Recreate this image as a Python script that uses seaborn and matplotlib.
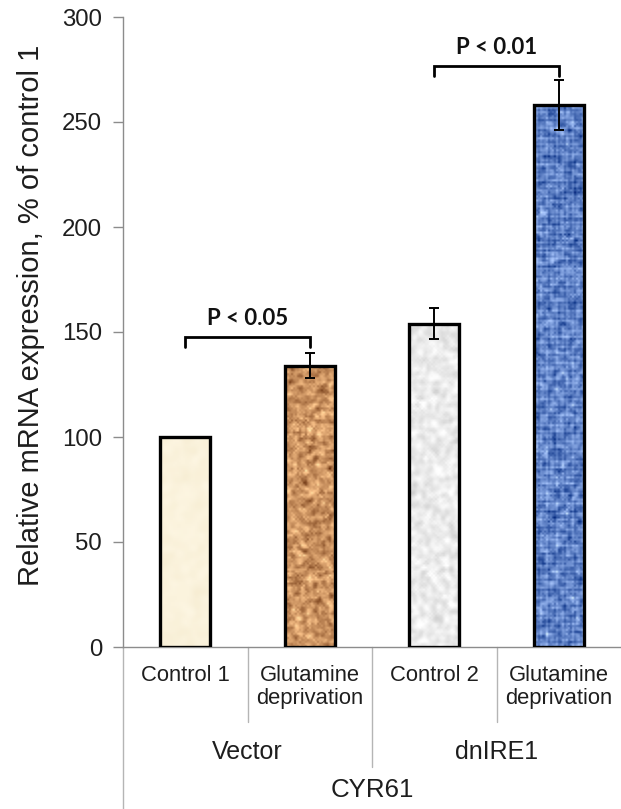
import numpy as np
import pandas as pd
import matplotlib
matplotlib.use("Agg")
import matplotlib.pyplot as plt
import seaborn as sns
from matplotlib.lines import Line2D
from matplotlib.transforms import blended_transform_factory

# ---- data ----
conditions = ["Control 1", "Glutamine\ndeprivation", "Control 2", "Glutamine\ndeprivation"]
groups = ["Vector", "Vector", "dnIRE1", "dnIRE1"]
gene = "CYR61"
values = [100, 134, 154, 258]
errors = [0, 6, 7.5, 12]
comparisons = [(0, 1, "P < 0.05"), (2, 3, "P < 0.01")]
y_ticks = [0, 50, 100, 150, 200, 250, 300]

keys = [f"{g}|{c}" for g, c in zip(groups, conditions)]
df = pd.DataFrame({"key": keys, "value": values, "err": errors})

sns.set_theme(style="white")
plt.rcParams["font.family"] = ["Liberation Sans", "DejaVu Sans"]

fig = plt.figure(figsize=(6.21, 8.09), dpi=100)
ax = fig.add_axes([123 / 621, 1 - 647 / 809, 1 - 123 / 621, 630 / 809])

sns.barplot(data=df, x="key", y="value", order=keys, width=0.4,
            color="white", edgecolor="black", linewidth=2.4,
            errorbar=None, ax=ax, zorder=3)


def smooth(a, k=1):
    out = a.copy()
    for _ in range(k):
        out = (out + np.roll(out, 1, 0) + np.roll(out, -1, 0)
               + np.roll(out, 1, 1) + np.roll(out, -1, 1)) / 5.0
    return out


def texture(kind, h, w, seed):
    rng = np.random.default_rng(seed)
    n = rng.standard_normal((h, w))
    if kind == "cream":
        base = np.array([251, 243, 221.0])
        n = smooth(n, 6)
        img = base + n[..., None] * np.array([6, 8, 14.0])
    elif kind == "cork":
        base = np.array([204, 148, 98.0])
        n = smooth(n, 1)
        n = n / n.std()
        img = base + n[..., None] * np.array([26, 26, 22.0])
    elif kind == "paper":
        base = np.array([236, 236, 236.0])
        n = smooth(n, 2)
        n = n / n.std()
        img = base + n[..., None] * np.array([9, 9, 9.0])
    else:  # woven blue
        base = np.array([96, 130, 198.0])
        yy, xx = np.mgrid[0:h, 0:w]
        weave = (np.sin(xx * 2 * np.pi / 2.6) * 0.6
                 + np.sin(yy * 2 * np.pi / 2.6) * 0.6)
        n = smooth(n, 1)
        n = n / n.std() * 0.8 + weave
        img = base + n[..., None] * np.array([32, 30, 24.0])
    return np.clip(img, 0, 255).astype(np.uint8)


kinds = ["cream", "cork", "paper", "woven"]
px_per_unit = 630 / 300
for i, (patch, kind) in enumerate(zip(ax.patches, kinds)):
    x0, w = patch.get_x(), patch.get_width()
    h = patch.get_height()
    img = texture(kind, max(int(h * px_per_unit / 2), 2), 25, seed=10 + i)
    im = ax.imshow(img, extent=[x0, x0 + w, 0, h], aspect="auto",
                   origin="lower", zorder=2, interpolation="bilinear")
    im.set_clip_path(patch)
    patch.set_facecolor("none")

# error bars (none for the reference condition)
xs = [p.get_x() + p.get_width() / 2 for p in ax.patches]
for x, v, e in zip(xs, values, errors):
    if e > 0:
        ax.errorbar(x, v, yerr=e, fmt="none", ecolor="black",
                    elinewidth=1.4, capsize=3.5, capthick=1.4, zorder=4)

# significance brackets
bracket_y = [147.6, 276.7]
for (a, b, label), by in zip(comparisons, bracket_y):
    ax.plot([xs[a], xs[a], xs[b], xs[b]], [by - 4.7, by, by, by - 4.7],
            color="black", lw=2.0, zorder=5, solid_joinstyle="miter")
    ax.text((xs[a] + xs[b]) / 2, by + 3.8, label, ha="center", va="bottom",
            fontsize=16, fontweight="bold", family=["Lato", "DejaVu Sans"],
            color="#111111")

ax.set_xlim(-0.5, 3.5)
ax.set_ylim(0, 300)
ax.set_yticks(y_ticks)
ax.set_yticklabels([str(t) for t in y_ticks], fontsize=17.3, color="#1e1e1e")
ax.tick_params(axis="y", direction="out", length=7, width=1, color="#8c8c8c", pad=8,
               left=True)
ax.set_xticks([])
ax.set_xlabel("")
ax.set_ylabel("")
for s in ["top", "right"]:
    ax.spines[s].set_visible(False)
for s in ["left", "bottom"]:
    ax.spines[s].set_color("#8c8c8c")
    ax.spines[s].set_linewidth(1.0)

fig.text(31 / 621, 1 - 315 / 809, "Relative mRNA expression, % of control 1",
         rotation=90, ha="center", va="center", fontsize=21, color="#1e1e1e")

# hierarchical category axis below the plot
trans = blended_transform_factory(ax.transData, fig.transFigure)
for x, c in zip(range(len(conditions)), conditions):
    ax.text(x, 1 - 665 / 809, c, transform=trans, ha="center", va="top",
            fontsize=15.8, color="#1e1e1e", linespacing=1.15)
group_names = list(dict.fromkeys(groups))
for gi, g in enumerate(group_names):
    idx = [i for i, gg in enumerate(groups) if gg == g]
    ax.text(np.mean(idx), 1 - 752 / 809, g, transform=trans, ha="center",
            va="center", fontsize=18, color="#1e1e1e")
ax.text(1.5, 1 - 790 / 809, gene, transform=trans, ha="center", va="center",
        fontsize=18.6, color="#1e1e1e")

line_kw = dict(transform=trans, color="#b5b5b5", lw=1.0, clip_on=False)
for x, ybot in [(0.5, 722), (2.5, 722), (1.5, 767), (-0.5, 809)]:
    ax.add_line(Line2D([x, x], [1 - 647 / 809, 1 - ybot / 809], **line_kw))

fig.savefig("out.png", dpi=100)
